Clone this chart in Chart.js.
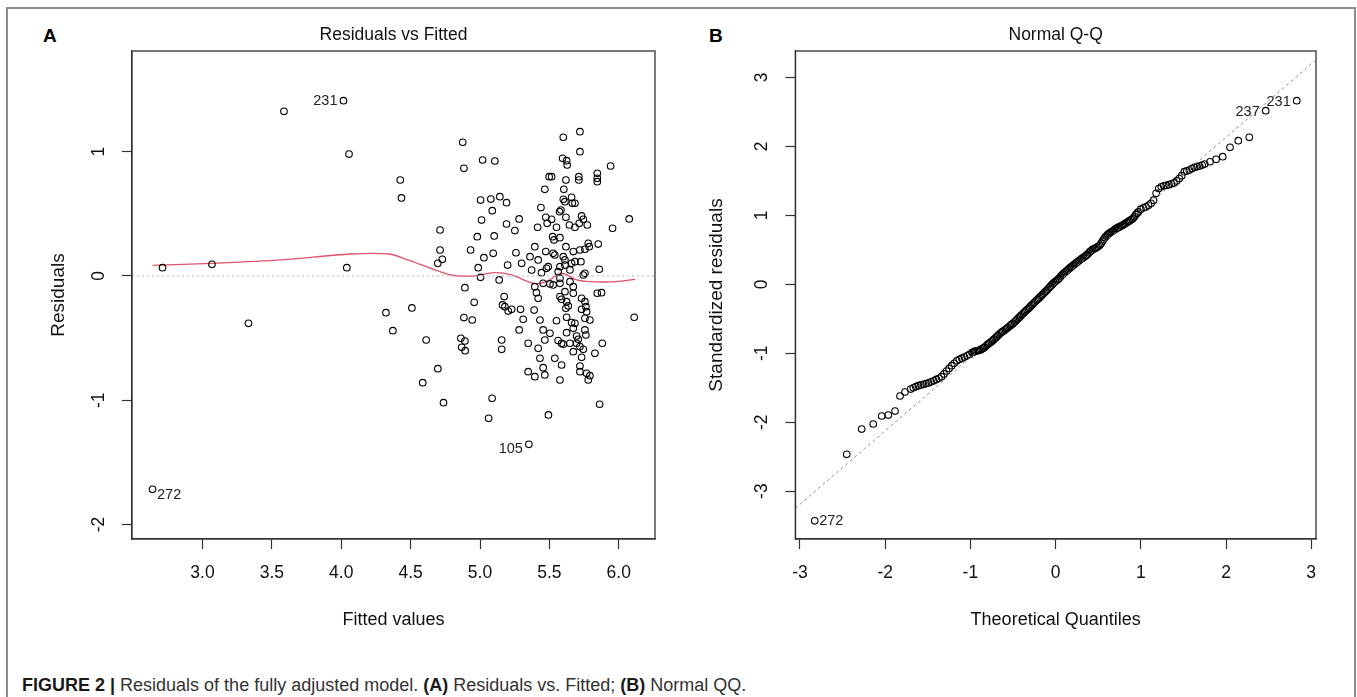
<!DOCTYPE html>
<html>
<head>
<meta charset="utf-8">
<title>Residuals of the fully adjusted model</title>
<script src="https://cdn.jsdelivr.net/npm/chart.js@4.4.1/dist/chart.umd.min.js"></script>
<style>
  body { margin: 0; background: #fff; font-family: "Liberation Sans", Arial, sans-serif; }
  #page { position: relative; width: 1357px; height: 697px; overflow: hidden; }
  #frame { position: absolute; left: 6px; top: 7px; width: 1350px; height: 720px; border: 2px solid #8c8c8c; box-sizing: border-box; }
  .panel { position: absolute; top: 26px; font-weight: bold; font-size: 19px; line-height: 1; color: #000; }
  #caption { position: absolute; left: 22px; top: 676px; font-size: 18px; line-height: 1; color: #333; white-space: nowrap; }
  #caption b { color: #1a1a1a; }
  canvas { position: absolute; top: 0; }
</style>
</head>
<body>
<div id="page">
  <div id="frame"></div>
  <div class="panel" style="left:43px">A</div>
  <div class="panel" style="left:709px">B</div>
  <canvas id="chartA" width="680" height="640" style="left:0px"></canvas>
  <canvas id="chartB" width="677" height="640" style="left:680px"></canvas>
  <div id="caption"><b>FIGURE 2 |</b> Residuals of the fully adjusted model. <b>(A)</b> Residuals vs. Fitted; <b>(B)</b> Normal QQ.</div>
</div>
<script>
const FONT = '"Liberation Sans", Arial, sans-serif';

// ---- Panel A: Residuals vs Fitted ----
const fittedA = [
  2.712, 3.068, 3.331, 3.587, 4.016, 4.056, 4.040, 4.425, 4.434, 4.322,
  4.509, 4.372, 4.612, 4.712, 4.712, 4.728, 4.696, 4.875, 4.884, 4.587,
  4.696, 4.737, 4.868, 4.893, 5.156, 5.062, 5.087, 5.352, 5.493, 5.862,
  2.640, 5.019, 5.107, 5.004, 5.078, 5.143, 5.191, 5.088, 5.011, 5.282,
  5.191, 5.251, 4.980, 5.102, 4.932, 5.028, 5.095, 5.259, 5.199, 5.300,
  4.987, 5.004, 5.138, 4.891, 4.958, 4.884, 4.944, 5.174, 5.162, 5.179,
  5.203, 5.228, 5.292, 5.311, 5.282, 4.862, 4.891, 5.156, 5.347, 5.347,
  5.395, 5.419, 5.432, 5.455, 5.467, 5.467, 5.390, 5.432, 5.455, 5.395,
  5.407, 5.419, 5.455, 5.372, 5.360, 5.395, 5.419, 5.474, 5.415, 5.439,
  5.467, 5.498, 5.474, 5.484, 5.491, 5.720, 5.600, 5.720, 5.595, 5.624,
  5.628, 5.941, 5.516, 5.619, 5.712, 5.712, 5.845, 5.845, 5.845, 5.604,
  5.600, 5.660, 5.612, 5.665, 5.684, 5.583, 5.573, 5.516, 5.619, 5.732,
  5.744, 5.551, 5.644, 5.684, 5.715, 5.773, 5.955, 6.075, 5.523, 5.533,
  5.576, 5.619, 5.527, 5.539, 5.600, 5.612, 5.672, 5.720, 5.756, 5.787,
  5.780, 5.852, 5.479, 5.443, 5.576, 5.612, 5.660, 5.684, 5.727, 5.563,
  5.648, 5.756, 5.744, 5.859, 5.504, 5.527, 5.576, 5.576, 5.648, 5.672,
  5.612, 5.576, 5.588, 5.624, 5.636, 5.619, 5.672, 5.732, 5.756, 5.763,
  5.732, 5.768, 5.845, 5.876, 6.111, 5.551, 5.624, 5.660, 5.684, 5.672,
  5.756, 5.792, 5.504, 5.624, 5.696, 5.708, 5.756, 5.763, 5.563, 5.588,
  5.600, 5.648, 5.696, 5.720, 5.744, 5.672, 5.732, 5.828, 5.881, 5.539,
  5.588, 5.720, 5.768, 5.792, 5.780, 5.720, 5.576
];
const residA = [
  0.067, 0.094, -0.381, 1.325, 1.410, 0.981, 0.067, 0.772, 0.628, -0.295,
  -0.257, -0.440, -0.515, 0.370, 0.209, 0.134, 0.102, 1.076, 0.866, -0.858,
  -0.746, -1.019, -0.574, -0.601, -0.590, -1.145, -0.984, -1.354, -1.118, -1.032,
  -1.716, 0.933, 0.925, 0.611, 0.619, 0.638, 0.590, 0.525, 0.450, 0.459,
  0.418, 0.365, 0.316, 0.322, 0.209, 0.147, 0.182, 0.187, 0.088, 0.102,
  0.067, -0.011, -0.032, -0.094, -0.212, -0.335, -0.354, -0.166, -0.233, -0.247,
  -0.282, -0.268, -0.268, -0.348, -0.434, -0.501, -0.523, -0.515, -0.541, -0.770,
  -0.810, -0.582, -0.662, -0.738, -0.796, -0.515, -0.274, -0.354, -0.434, -0.086,
  -0.134, -0.180, -0.059, 0.048, 0.155, 0.236, 0.129, 0.196, 0.392, 0.550,
  0.697, 0.799, 0.472, 0.424, 0.075, 1.161, 1.116, 1.000, 0.947, 0.928,
  0.893, 0.885, 0.799, 0.772, 0.799, 0.772, 0.826, 0.786, 0.759, 0.697,
  0.617, 0.633, 0.598, 0.585, 0.585, 0.531, 0.517, 0.456, 0.472, 0.483,
  0.456, 0.392, 0.410, 0.392, 0.424, 0.410, 0.384, 0.459, 0.316, 0.290,
  0.308, 0.236, 0.182, 0.169, 0.155, 0.129, 0.196, 0.209, 0.215, 0.236,
  0.263, 0.257, 0.062, 0.027, 0.075, 0.088, 0.102, 0.115, 0.115, 0.035,
  0.048, 0.022, 0.008, 0.054, -0.064, -0.072, -0.019, -0.059, -0.046, -0.086,
  -0.126, -0.166, -0.188, -0.207, -0.241, -0.260, -0.139, -0.180, -0.207, -0.247,
  -0.268, -0.287, -0.139, -0.134, -0.332, -0.360, -0.332, -0.375, -0.381, -0.421,
  -0.340, -0.354, -0.461, -0.456, -0.483, -0.509, -0.434, -0.475, -0.520, -0.541,
  -0.550, -0.541, -0.541, -0.568, -0.590, -0.609, -0.654, -0.622, -0.541, -0.662,
  -0.716, -0.724, -0.783, -0.802, -0.837, -0.770, -0.837
];
const lowessFit = [2.64, 3.07, 3.57, 4.07, 4.35, 4.48, 4.665, 4.79, 4.95, 5.10, 5.228, 5.384, 5.478, 5.587, 5.697, 5.79, 5.98, 6.118];
const lowessRes = [0.086, 0.102, 0.129, 0.177, 0.177, 0.129, 0.054, 0.008, 0.0, 0.027, 0.008, -0.059, -0.046, 0.022, -0.032, -0.046, -0.046, -0.027];
const xRangeA = [2.492, 6.261];
const yRangeA = [-2.116, 1.81];
const xTicksA = [3.0, 3.5, 4.0, 4.5, 5.0, 5.5, 6.0];
const xTickLabelsA = ["3.0", "3.5", "4.0", "4.5", "5.0", "5.5", "6.0"];
const yTicksA = [-2, -1, 0, 1];
const yTickLabelsA = ["-2", "-1", "0", "1"];
const idTextA = ["231", "272", "105"];
const idFitA = [4.016, 2.640, 5.352];
const idResA = [1.410, -1.716, -1.354];

// ---- Panel B: Normal Q-Q ----
const theoQ = [
  -2.827, -2.452, -2.276, -2.140, -2.041, -1.964, -1.885, -1.826, -1.768,
  -1.70, -1.67, -1.64, -1.61, -1.58, -1.55, -1.52, -1.49, -1.46, -1.43,
  -1.40, -1.37, -1.34, -1.31, -1.28, -1.25, -1.22, -1.19, -1.16, -1.13,
  -1.10, -1.07, -1.04, -1.01, -0.98, -0.95, -0.92, -0.89, -0.86, -0.83,
  -0.80, -0.77, -0.74, -0.71, -0.68, -0.65, -0.62, -0.59, -0.56, -0.53,
  -0.50, -0.47, -0.44, -0.41, -0.38, -0.35, -0.32, -0.29, -0.26, -0.23,
  -0.20, -0.17, -0.14, -0.11, -0.08, -0.05, -0.02, 0.01, 0.04, 0.07,
  0.10, 0.13, 0.16, 0.19, 0.22, 0.25, 0.28, 0.31, 0.34, 0.37,
  0.40, 0.43, 0.46, 0.49, 0.52, 0.55, 0.58, 0.61, 0.64, 0.67,
  0.70, 0.73, 0.76, 0.79, 0.82, 0.85, 0.88, 0.91, 0.94, 0.97,
  1.00, 1.03, 1.06, 1.09, 1.12, 1.15, 1.18, 1.21, 1.24, 1.27,
  1.30, 1.33, 1.36, 1.39, 1.42, 1.45, 1.48, 1.51, 1.54, 1.57,
  1.60, 1.63, 1.66, 1.69, 1.72, 1.75,
  1.812, 1.883, 1.961, 2.047, 2.144, 2.273, 2.466, 2.830,
  // denser middle of the band
  -0.965, -0.935, -0.905, -0.875, -0.845, -0.815, -0.785, -0.755, -0.725, -0.695,
  -0.665, -0.635, -0.605, -0.575, -0.545, -0.515, -0.485, -0.455, -0.425, -0.395,
  -0.365, -0.335, -0.305, -0.275, -0.245, -0.215, -0.185, -0.155, -0.125, -0.095,
  -0.065, -0.035, -0.005, 0.025, 0.055, 0.085, 0.115, 0.145, 0.175, 0.205,
  0.235, 0.265, 0.295, 0.325, 0.355, 0.385, 0.415, 0.445, 0.475, 0.505,
  0.535, 0.565, 0.595, 0.625, 0.655, 0.685, 0.715, 0.745, 0.775, 0.805,
  0.835, 0.865, 0.895, 0.925, 0.955
];
const stdRes = [
  -3.430, -2.466, -2.099, -2.026, -1.910, -1.896, -1.838, -1.620, -1.562,
  -1.52, -1.50, -1.485, -1.47, -1.46, -1.45, -1.44, -1.43, -1.415, -1.40,
  -1.38, -1.363, -1.34, -1.30, -1.257, -1.22, -1.18, -1.145, -1.11, -1.09,
  -1.072, -1.055, -1.037, -1.017, -0.99, -0.974, -0.965, -0.955, -0.935, -0.91,
  -0.873, -0.846, -0.817, -0.784, -0.747, -0.711, -0.684, -0.656, -0.628, -0.597,
  -0.567, -0.532, -0.495, -0.458, -0.42, -0.385, -0.351, -0.313, -0.276, -0.24,
  -0.204, -0.168, -0.13, -0.095, -0.055, -0.013, 0.025, 0.055, 0.085, 0.13,
  0.165, 0.197, 0.23, 0.26, 0.29, 0.32, 0.348, 0.375, 0.402, 0.43,
  0.47, 0.503, 0.52, 0.54, 0.57, 0.625, 0.68, 0.72, 0.75, 0.772,
  0.80, 0.822, 0.842, 0.86, 0.885, 0.908, 0.932, 0.957, 1.01, 1.05,
  1.09, 1.11, 1.123, 1.145, 1.175, 1.22, 1.32, 1.39, 1.415, 1.428,
  1.435, 1.445, 1.457, 1.47, 1.50, 1.535, 1.575, 1.633, 1.645, 1.658,
  1.678, 1.697, 1.706, 1.716, 1.73, 1.745,
  1.778, 1.813, 1.851, 1.987, 2.083, 2.132, 2.518, 2.663,
  -0.982, -0.969, -0.960, -0.945, -0.922, -0.891, -0.860, -0.832, -0.800, -0.766,
  -0.729, -0.697, -0.670, -0.642, -0.612, -0.582, -0.550, -0.513, -0.476, -0.439,
  -0.402, -0.368, -0.332, -0.295, -0.258, -0.222, -0.186, -0.149, -0.112, -0.075,
  -0.034, 0.006, 0.040, 0.070, 0.107, 0.148, 0.181, 0.213, 0.245, 0.275,
  0.305, 0.334, 0.362, 0.389, 0.416, 0.450, 0.487, 0.512, 0.530, 0.555,
  0.597, 0.652, 0.700, 0.735, 0.761, 0.786, 0.811, 0.832, 0.851, 0.872,
  0.896, 0.920, 0.944, 0.983, 1.030
];
const qqLineX = [-3.055, 3.056];
const qqLineY = [-3.248, 3.255];
const xRangeB = [-3.055, 3.056];
const yRangeB = [-3.694, 3.384];
const xTicksB = [-3, -2, -1, 0, 1, 2, 3];
const xTickLabelsB = ["-3", "-2", "-1", "0", "1", "2", "3"];
const yTicksB = [-3, -2, -1, 0, 1, 2, 3];
const yTickLabelsB = ["-3", "-2", "-1", "0", "1", "2", "3"];
const idTextB = ["231", "237", "272"];
const idTheoB = [2.830, 2.466, -2.827];
const idStdB = [2.663, 2.518, -3.430];

const toXY = (xs, ys) => xs.map((v, i) => ({ x: v, y: ys[i] }));

// box round the plot region, like R's box()
const plotBox = {
  id: 'plotBox',
  afterDraw(chart) {
    const { ctx, chartArea: a } = chart;
    ctx.save();
    ctx.strokeStyle = '#333';
    ctx.lineWidth = 1.3;
    ctx.strokeRect(a.left, a.top, a.right - a.left, a.bottom - a.top);
    ctx.restore();
  }
};

// observation numbers next to the flagged points
const idLabels = {
  id: 'idLabels',
  afterDatasetsDraw(chart, args, opts) {
    const { ctx, scales: { x, y } } = chart;
    ctx.save();
    ctx.font = '14.5px ' + FONT;
    ctx.fillStyle = '#222';
    ctx.textBaseline = 'middle';
    opts.text.forEach((t, i) => {
      const px = x.getPixelForValue(opts.xs[i]);
      const py = y.getPixelForValue(opts.ys[i]);
      const left = opts.side[i] === 'left';
      ctx.textAlign = left ? 'right' : 'left';
      ctx.fillText(t, px + (left ? -6 : 4.5), py + opts.dy[i]);
    });
    ctx.restore();
  }
};

function xAxis(range, ticks, labels, title) {
  return {
    type: 'linear', position: 'bottom', min: range[0], max: range[1],
    afterBuildTicks: s => { s.ticks = ticks.map(v => ({ value: v })); },
    afterFit: s => { s.height = 101; },
    ticks: { autoSkip: false, maxRotation: 0, padding: 13.8, color: '#111',
      font: { family: FONT, size: 17.5 }, callback: (v, i) => labels[i] },
    grid: { drawOnChartArea: false, tickLength: 10, tickColor: '#333', tickWidth: 1.2 },
    border: { color: '#333', width: 1.2 },
    title: { display: true, text: title, color: '#111', font: { family: FONT, size: 18 },
      padding: { top: 0, bottom: 9.2 } }
  };
}

function yAxis(range, ticks, labels, title, width, titlePad) {
  return {
    type: 'linear', position: 'left', min: range[0], max: range[1],
    afterBuildTicks: s => { s.ticks = ticks.map(v => ({ value: v })); },
    afterFit: s => { s.width = width; },
    ticks: { autoSkip: false, minRotation: 90, maxRotation: 90, crossAlign: 'center', padding: 15,
      color: '#111', font: { family: FONT, size: 17.5 }, callback: (v, i) => labels[i] },
    grid: { drawOnChartArea: false, tickLength: 10, tickColor: '#333', tickWidth: 1.2 },
    border: { color: '#333', width: 1.2 },
    title: { display: true, text: title, color: '#111', font: { family: FONT, size: 19 },
      padding: { top: titlePad, bottom: 0 } }
  };
}

function titleOpts(text) {
  return { display: true, text: text, fullSize: false, color: '#111',
    font: { family: FONT, size: 17.5, weight: 'normal' }, padding: { top: 24.5, bottom: 5.5 } };
}

const pointStyle = { pointRadius: 3.3, pointBorderWidth: 1.1, pointBorderColor: '#000',
  pointBackgroundColor: 'rgba(0,0,0,0)', showLine: false };

new Chart(document.getElementById('chartA'), {
  type: 'scatter',
  data: {
    datasets: [
      { data: toXY(xRangeA, [0, 0]), showLine: true, pointRadius: 0, borderColor: '#b5b5b5',
        borderWidth: 1, borderDash: [2, 3] },
      Object.assign({ data: toXY(fittedA, residA) }, pointStyle),
      { data: toXY(lowessFit, lowessRes), showLine: true, pointRadius: 0, borderColor: '#DF536B',
        borderWidth: 1.3, tension: 0.3 }
    ]
  },
  options: {
    responsive: false, animation: false, events: [], devicePixelRatio: 1,
    layout: { padding: { left: 0, top: 0, right: 25, bottom: 0 } },
    scales: {
      x: xAxis(xRangeA, xTicksA, xTickLabelsA, 'Fitted values'),
      y: yAxis(yRangeA, yTicksA, yTickLabelsA, 'Residuals', 132, 47.1)
    },
    plugins: {
      legend: { display: false }, tooltip: { enabled: false },
      title: titleOpts('Residuals vs Fitted'),
      idLabels: { text: idTextA, xs: idFitA, ys: idResA, side: ['left', 'right', 'left'], dy: [0, 6, 5] }
    }
  },
  plugins: [plotBox, idLabels]
});

new Chart(document.getElementById('chartB'), {
  type: 'scatter',
  data: {
    datasets: [
      { data: toXY(qqLineX, qqLineY), showLine: true, pointRadius: 0, borderColor: '#8f8f8f',
        borderWidth: 1, borderDash: [3, 3] },
      Object.assign({ data: toXY(theoQ, stdRes) }, pointStyle)
    ]
  },
  options: {
    responsive: false, animation: false, events: [], devicePixelRatio: 1,
    layout: { padding: { left: 0, top: 0, right: 41, bottom: 0 } },
    scales: {
      x: xAxis(xRangeB, xTicksB, xTickLabelsB, 'Theoretical Quantiles'),
      y: yAxis(yRangeB, yTicksB, yTickLabelsB, 'Standardized residuals', 115.3, 25.3)
    },
    plugins: {
      legend: { display: false }, tooltip: { enabled: false },
      title: titleOpts('Normal Q-Q'),
      idLabels: { text: idTextB, xs: idTheoB, ys: idStdB, side: ['left', 'left', 'right'], dy: [1, 1, 0] }
    }
  },
  plugins: [plotBox, idLabels]
});
</script>
</body>
</html>
